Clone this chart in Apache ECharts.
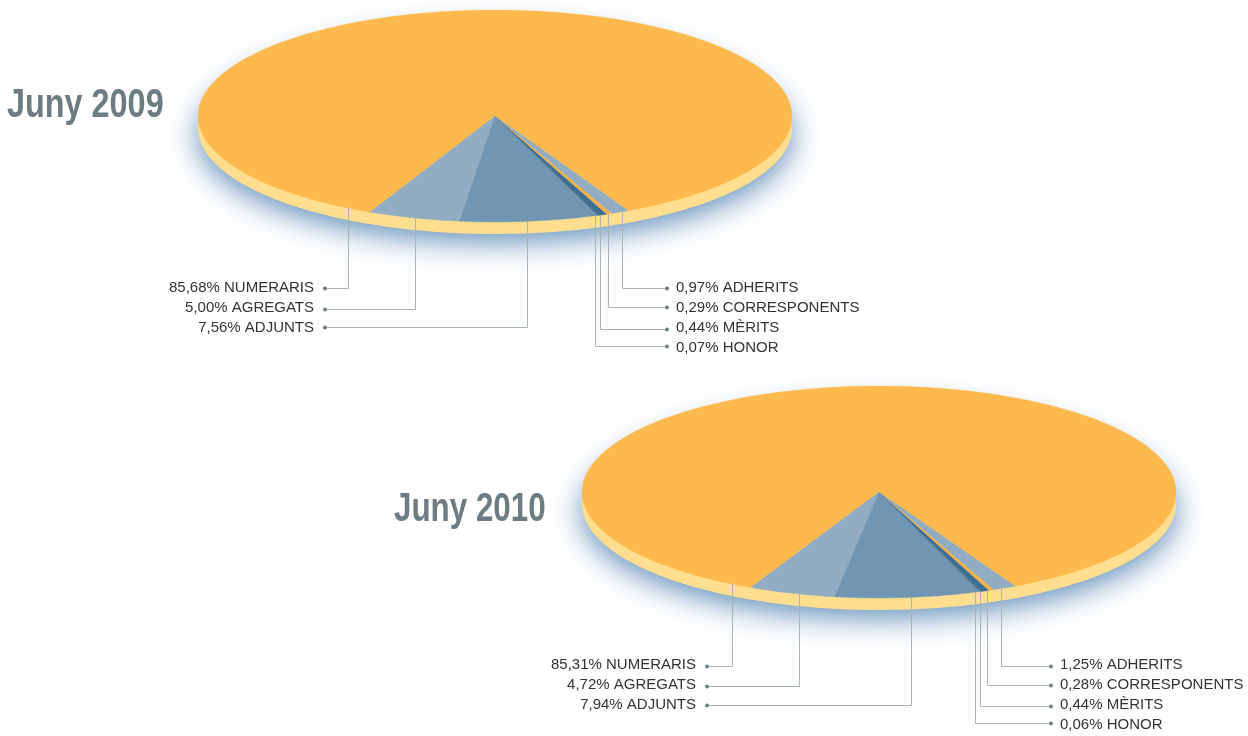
<!DOCTYPE html>
<html>
<head>
<meta charset="utf-8">
<style>html,body{margin:0;padding:0;background:#fff}#c{width:1248px;height:736px}</style>
<script src="https://cdn.jsdelivr.net/npm/echarts@6/dist/echarts.min.js"></script>
</head>
<body>
<div id="c"></div>
<script>
// Data
var categories = ['NUMERARIS', 'AGREGATS', 'ADJUNTS', 'HONOR', 'MÈRITS', 'CORRESPONENTS', 'ADHERITS'];
var values2009 = [85.68, 5.00, 7.56, 0.07, 0.44, 0.29, 0.97];
var values2010 = [85.31, 4.72, 7.94, 0.06, 0.44, 0.28, 1.25];
var titles = ['Juny 2009', 'Juny 2010'];

// Layout (pixels), by category order
var leaderX = [
  [348, 415, 527, 595, 600, 608, 622],
  [732, 799, 911, 975, 980, 987, 1001]
];
var leaderY = [
  [288, 309, 327, 346, 329, 307, 288],
  [666, 686, 705, 723, 706, 685, 666]
];
var labelY = [
  [288, 308, 328, 348, 328, 308, 288],
  [665, 685, 705, 725, 705, 685, 665]
];
var dotLeftX = [325, 707];
var dotRightX = [667, 1051];
var endAngle = [-24.9, -25.6]; // where the first slice ends, degrees from the bottom of the ellipse
var THICK = 12;
var colors = ['#fdb94d', '#92acc4', '#7096b4', '#2f5f85', '#3d6e93', '#f7b34a', '#92acc4'];

var allValues = [values2009, values2010];

function slices(v, p) {
  var total = v.reduce(function (a, b) { return a + b; }, 0);
  var a = endAngle[p] - v[0] / total * 360;
  return v.map(function (val, i) {
    var s = a, e = a + val / total * 360;
    a = e;
    return [val, s, e, i];
  });
}
function pt(api, deg) {
  var r = deg * Math.PI / 180;
  return api.coord([Math.sin(r), -Math.cos(r)]);
}
function arc(api, s, e) {
  var n = Math.max(2, Math.ceil((e - s) / 1.5)), pts = [];
  for (var i = 0; i <= n; i++) pts.push(pt(api, s + (e - s) * i / n));
  return pts;
}

function rimSeries(p) {
  return {
    type: 'custom', coordinateSystem: 'cartesian2d', xAxisIndex: p, yAxisIndex: p, silent: true, z: 1,
    data: [[0, 0]],
    renderItem: function (params, api) {
      var pts = arc(api, 0, 360).map(function (q) { return [q[0], q[1] + THICK]; });
      return {
        type: 'polygon', shape: { points: pts },
        style: { fill: '#ffdf8f', shadowColor: 'rgba(60,115,170,0.8)', shadowBlur: 30, shadowOffsetY: 8 }
      };
    }
  };
}
function sliceSeries(p) {
  return {
    type: 'custom', coordinateSystem: 'cartesian2d', xAxisIndex: p, yAxisIndex: p, silent: true, z: 2,
    dimensions: ['value', 'start', 'end', 'index'],
    data: slices(allValues[p], p),
    encode: { x: 0, y: 0 },
    renderItem: function (params, api) {
      var s = api.value(1), e = api.value(2), i = api.value(3);
      var pts = [api.coord([0, 0])].concat(arc(api, s, e));
      return { type: 'polygon', shape: { points: pts }, style: { fill: colors[i], stroke: colors[i], lineWidth: 0.3 } };
    }
  };
}
function leaderSeries(p) {
  return {
    type: 'custom', coordinateSystem: 'cartesian2d', xAxisIndex: p, yAxisIndex: p, silent: true, z: 3,
    dimensions: ['value', 'index'],
    data: allValues[p].map(function (v, i) { return [v, i]; }),
    encode: { x: 0, y: 0 },
    renderItem: function (params, api) {
      var v = api.value(0), i = api.value(1);
      var x = leaderX[p][i] + 0.5, y = leaderY[p][i] + 0.5;
      var c = api.coord([0, 0]), right = api.coord([1, 0]), bottom = api.coord([0, -1]);
      var u = (x - c[0]) / (right[0] - c[0]);
      var rimY = c[1] + (bottom[1] - c[1]) * Math.sqrt(1 - u * u);
      var isLeft = i < 3;
      var dx = isLeft ? dotLeftX[p] : dotRightX[p];
      var txt = v.toFixed(2).replace('.', ',') + '% ' + categories[i];
      return {
        type: 'group',
        children: [
          { type: 'polyline', shape: { points: [[x, rimY], [x, y], [dx, y]] },
            style: { fill: null, stroke: '#a9b4b7', lineWidth: 1 } },
          { type: 'circle', shape: { cx: dx, cy: y, r: 2 }, style: { fill: '#6f7f86' } },
          { type: 'text', x: isLeft ? dx - 11 : dx + 9, y: labelY[p][i],
            style: { text: txt, fill: '#333333', font: '15px "Liberation Sans"',
              align: isLeft ? 'right' : 'left', verticalAlign: 'middle' } }
        ]
      };
    }
  };
}

function titleText(i, x, y, sx) {
  return { type: 'text', x: x, y: y, scaleX: sx, z: 10, silent: true,
    style: { text: titles[i], font: 'bold 41px "Liberation Sans"', fill: '#6d7b82', align: 'left', verticalAlign: 'middle' } };
}

var chart = echarts.init(document.getElementById('c'));
chart.setOption({
  animation: false,
  backgroundColor: '#ffffff',
  graphic: { elements: [titleText(0, 7, 106, 0.79), titleText(1, 394, 510, 0.765)] },
  grid: [
    { left: 198, top: 10, width: 594, height: 212 },
    { left: 582, top: 386, width: 594, height: 212 }
  ],
  xAxis: [
    { gridIndex: 0, type: 'value', min: -1, max: 1, show: false },
    { gridIndex: 1, type: 'value', min: -1, max: 1, show: false }
  ],
  yAxis: [
    { gridIndex: 0, type: 'value', min: -1, max: 1, show: false },
    { gridIndex: 1, type: 'value', min: -1, max: 1, show: false }
  ],
  series: [
    rimSeries(0), sliceSeries(0), leaderSeries(0),
    rimSeries(1), sliceSeries(1), leaderSeries(1)
  ]
});
</script>
</body>
</html>
